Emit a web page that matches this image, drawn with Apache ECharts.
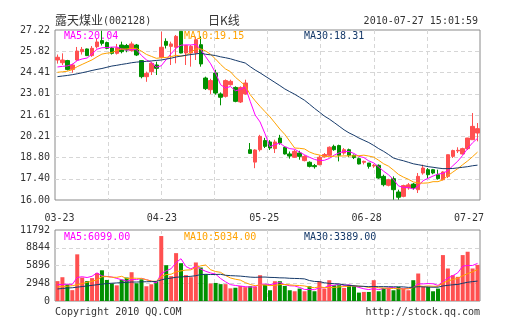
<!DOCTYPE html>
<html><head><meta charset="utf-8">
<script src="https://cdn.jsdelivr.net/npm/echarts@6/dist/echarts.min.js"></script>
<style>html,body{margin:0;padding:0;background:#fff}#c{width:505px;height:330px}</style>
</head><body><div id="c"></div>
<script>
const dates = ['03-23','03-24','03-25','03-26','03-29','03-30','03-31',
'04-01','04-02','04-06','04-07','04-08','04-09','04-12','04-13','04-14','04-15','04-16','04-19','04-20','04-21','04-22','04-23','04-26','04-27','04-28','04-29','04-30',
'05-04','05-05','05-06','05-07','05-10','05-11','05-12','05-13','05-14','05-17','05-18','05-19','05-20','05-21','05-24','05-25','05-26','05-27','05-28','05-31',
'06-01','06-02','06-03','06-04','06-07','06-08','06-09','06-10','06-11','06-17','06-18','06-21','06-22','06-23','06-24','06-25','06-28','06-29','06-30',
'07-01','07-02','07-05','07-06','07-07','07-08','07-09','07-12','07-13','07-14','07-15','07-16','07-19','07-20','07-21','07-22','07-23','07-26','07-27'];

const opens = [25.24,25.06,25.20,24.62,25.24,25.79,25.97,25.53,26.12,26.52,
26.39,26.03,25.68,26.23,26.20,25.86,26.23,25.20,24.14,24.47,
24.91,25.42,26.47,26.14,26.08,27.13,25.70,25.70,25.70,26.25,
24.05,23.28,24.38,23.00,22.84,23.61,23.43,22.47,23.00,19.32,
18.50,19.32,19.92,19.83,19.39,20.09,19.48,19.04,18.82,19.10,
18.60,18.49,18.27,18.33,18.85,18.95,19.54,19.59,19.10,19.32,
18.95,18.73,18.49,18.44,18.25,18.29,17.56,16.97,17.41,16.53,
16.24,16.80,17.05,16.68,17.78,18.00,18.00,17.67,17.34,17.56,
18.88,19.24,19.04,19.39,19.98,20.42];
const closes = [25.42,25.24,24.62,24.91,25.83,25.94,25.53,26.01,26.43,26.34,
26.01,25.68,26.05,25.79,25.90,26.30,25.57,24.14,24.36,25.02,
24.69,26.08,26.21,26.30,26.80,25.70,26.20,26.14,26.58,24.98,
23.35,23.88,23.06,22.78,23.88,23.83,22.51,23.43,23.72,19.08,
19.30,20.20,19.54,19.43,19.83,19.76,19.04,18.90,19.21,18.88,
18.88,18.22,18.20,18.82,19.00,19.48,19.32,18.95,19.32,18.95,
18.80,18.38,18.55,18.22,18.29,17.45,17.01,17.34,16.68,16.18,
16.95,17.00,16.79,17.56,18.11,17.67,17.78,17.41,17.85,18.99,
19.26,19.28,19.39,20.09,20.86,20.71];
const highs = [25.60,25.68,25.25,25.00,26.10,26.10,26.00,26.16,26.67,27.17,
26.45,26.10,26.30,26.45,26.30,26.45,26.30,25.24,24.47,25.13,
25.13,27.11,26.67,26.45,26.89,27.15,26.23,26.23,26.78,26.80,
24.14,24.00,24.60,23.10,23.96,23.94,23.50,23.50,23.94,19.76,
19.35,20.30,20.10,19.95,19.98,20.30,19.55,19.20,19.32,19.25,
18.95,18.55,18.38,18.95,19.10,19.54,19.65,19.65,19.43,19.39,
19.00,18.80,18.60,18.44,18.38,18.35,17.67,17.40,17.56,16.68,
17.01,17.12,17.12,17.78,18.33,18.11,18.05,18.00,17.90,19.00,
19.32,19.48,19.45,20.10,21.74,21.08];
const lows = [25.00,24.91,24.55,24.40,25.20,25.60,25.50,25.45,26.00,26.20,
25.95,25.60,25.60,25.68,25.75,25.79,25.50,24.03,23.80,24.25,
24.25,25.35,26.00,24.91,25.02,25.68,24.91,24.80,25.24,24.80,
23.26,23.00,22.95,22.25,22.76,23.55,22.45,22.40,22.95,19.04,
18.10,19.20,19.43,19.30,19.10,19.65,19.00,18.73,18.77,18.66,
18.55,18.15,18.07,18.29,18.80,18.88,19.25,18.55,18.99,18.82,
18.70,18.35,18.35,18.07,18.12,17.40,16.90,16.90,16.02,16.02,
16.18,16.68,16.68,16.46,17.67,17.45,17.70,17.34,17.30,17.45,
18.77,19.10,19.00,19.30,19.98,19.87];
const volumes = [3300,3950,2750,1800,7750,3900,3300,3800,4650,5100,
3500,2900,2600,3550,3900,4780,2950,3600,2450,2780,
3150,10790,5950,4130,7950,6280,4300,3950,6400,5560,
4448,2900,3000,2800,2800,2100,2200,2500,2300,2452,
2341,4288,2730,1785,3285,3285,2507,1785,1618,2063,
1618,2452,1618,3285,2063,3452,2619,2619,2174,2619,
2452,1396,1507,1507,3452,1618,2174,2174,1785,2341,
2063,1785,3452,4565,2341,2341,1618,2063,7625,5401,
4288,4010,7625,8182,5401,6000];

// moving-average values before enough in-window history exists
const priceMa5Head = [24.78,24.82,24.85,24.95];
const priceMa10Head = [24.43,24.46,24.50,24.60,24.80,24.95,25.10,25.25,25.45];
const priceMa30Head = [24.14,24.18,24.22,24.27,24.33,24.40,24.47,24.55,24.62,24.68,
24.76,24.84,24.89,24.95,25.00,25.06,25.10,25.13,25.15,25.18,
25.21,25.24,25.30,25.36,25.44,25.50,25.55,25.60,25.64];
const volMa5Head = [2700,2750,2800,2750];
const volMa10Head = [2340,2400,2450,2550,2700,2900,3100,3300,3500];
const volMa30Head = [2000,2080,2150,2200,2300,2400,2500,2600,2700,2800,
2900,2950,3000,3050,3100,3150,3150,3180,3200,3220,
3250,3500,3700,3800,3950,4000,4050,4100,4200];

const yTickLabels = ['16.00','17.40','18.80','20.21','21.61','23.01','24.41','25.82','27.22'];
const volTickLabels = ['0','2948','5896','8844','11792'];
const xTickLabels = ['03-23','04-23','05-25','06-28','07-27'];
const headerTexts = ['露天煤业','(002128)','日K线','2010-07-27 15:01:59'];
const priceLegend = ['MA5:20.04','MA10:19.15','MA30:18.31'];
const volLegend = ['MA5:6099.00','MA10:5034.00','MA30:3389.00'];
const footerTexts = ['Copyright 2010 QQ.COM','http://stock.qq.com'];

function movingAvg(vals, n, head, dp) {
  return vals.map((v, i) => {
    if (i < n - 1) return head[i];
    let s = 0;
    for (let k = i - n + 1; k <= i; k++) s += vals[k];
    return +(s / n).toFixed(dp);
  });
}

const RED = '#ff5050', GREEN = '#009000';
const C5 = '#ff00ff', C10 = '#ffa200', C30 = '#163a6a';
const MONO = '"DejaVu Sans Mono", monospace';
const CJK = '"Noto Sans CJK SC", sans-serif';

const kData = opens.map((o, i) => [o, closes[i], lows[i], highs[i]]);
const vData = volumes.map((v, i) => ({value: v, itemStyle: {color: closes[i] >= opens[i] ? RED : GREEN}}));

const dash = {color: '#d6d6d6', type: [4, 3], width: 1};
function hiddenCat(g) {
  return {type: 'category', gridIndex: g, data: dates, boundaryGap: true,
    axisLine: {show: false}, axisTick: {show: false}, axisLabel: {show: false}, splitLine: {show: false}};
}
function gridX(g) {
  return {type: 'value', gridIndex: g, min: 0, max: 8, interval: 1,
    axisLine: {show: false}, axisTick: {show: false}, axisLabel: {show: false},
    splitLine: {show: true, showMinLine: false, showMaxLine: false, lineStyle: dash}};
}
function line(name, data, color, xi, yi) {
  return {name, type: 'line', data, xAxisIndex: xi, yAxisIndex: yi, symbol: 'none', smooth: false,
    lineStyle: {color, width: 1}, z: 3, silent: true};
}

const chart = echarts.init(document.getElementById('c'), null, {renderer: 'canvas'});
chart.setOption({
  animation: false,
  backgroundColor: '#fff',
  grid: [
    {left: 55, top: 30, width: 425, height: 170, show: true, borderColor: '#8a8a8a', borderWidth: 1, backgroundColor: '#fff'},
    {left: 55, top: 230, width: 425, height: 71, show: true, borderColor: '#8a8a8a', borderWidth: 1, backgroundColor: '#fff'}
  ],
  xAxis: [
    hiddenCat(0), gridX(0), hiddenCat(1), gridX(1),
    {type: 'value', gridIndex: 0, min: -0.044, max: 4.1075, position: 'bottom',
      axisLine: {show: false}, axisTick: {show: false}, splitLine: {show: false},
      axisLabel: {customValues: [0, 1, 2, 3, 4], formatter: v => xTickLabels[Math.round(v)],
        color: '#333', fontFamily: MONO, fontSize: 10, margin: 13}}
  ],
  yAxis: [
    {type: 'value', gridIndex: 0, min: 16, max: 27.22, interval: 1.4025,
      axisLine: {show: false}, axisTick: {show: false},
      splitLine: {show: true, showMinLine: false, showMaxLine: false, lineStyle: dash},
      axisLabel: {formatter: v => yTickLabels[Math.round((v - 16) / 1.4025)], color: '#333', fontFamily: MONO, fontSize: 10, margin: 5}},
    {type: 'value', gridIndex: 1, min: 0, max: 11792, interval: 2948,
      axisLine: {show: false}, axisTick: {show: false},
      splitLine: {show: true, showMinLine: false, showMaxLine: false, lineStyle: dash},
      axisLabel: {formatter: v => volTickLabels[Math.round(v / 2948)], color: '#333', fontFamily: MONO, fontSize: 10, margin: 5}}
  ],
  series: [
    {type: 'candlestick', data: kData, xAxisIndex: 0, yAxisIndex: 0, barWidth: 4,
      itemStyle: {color: RED, color0: GREEN, borderColor: RED, borderColor0: GREEN, borderWidth: 1}, z: 2, silent: true},
    line('MA5', movingAvg(closes, 5, priceMa5Head, 2), C5, 0, 0),
    line('MA10', movingAvg(closes, 10, priceMa10Head, 2), C10, 0, 0),
    line('MA30', movingAvg(closes, 30, priceMa30Head, 2), C30, 0, 0),
    {type: 'bar', data: vData, xAxisIndex: 2, yAxisIndex: 1, barWidth: 4, z: 2, silent: true},
    line('VMA5', movingAvg(volumes, 5, volMa5Head, 0), C5, 2, 1),
    line('VMA10', movingAvg(volumes, 10, volMa10Head, 0), C10, 2, 1),
    line('VMA30', movingAvg(volumes, 30, volMa30Head, 0), C30, 2, 1)
  ],
  graphic: [
    {type: 'text', left: 55, top: 14, style: {text: headerTexts[0], font: '12px ' + CJK, fill: '#333'}},
    {type: 'text', left: 103, top: 16, style: {text: headerTexts[1], font: '10px ' + MONO, fill: '#333'}},
    {type: 'text', left: 208, top: 14, style: {text: headerTexts[2], font: '12px ' + CJK, fill: '#333'}},
    {type: 'text', right: 27, top: 16, style: {text: headerTexts[3], font: '10px ' + MONO, fill: '#333'}},
    {type: 'text', left: 64, top: 31, z: 10, style: {text: priceLegend[0], font: '10px ' + MONO, fill: C5}},
    {type: 'text', left: 184, top: 31, z: 10, style: {text: priceLegend[1], font: '10px ' + MONO, fill: C10}},
    {type: 'text', left: 304, top: 31, z: 10, style: {text: priceLegend[2], font: '10px ' + MONO, fill: C30}},
    {type: 'text', left: 64, top: 232, z: 10, style: {text: volLegend[0], font: '10px ' + MONO, fill: C5}},
    {type: 'text', left: 184, top: 232, z: 10, style: {text: volLegend[1], font: '10px ' + MONO, fill: C10}},
    {type: 'text', left: 304, top: 232, z: 10, style: {text: volLegend[2], font: '10px ' + MONO, fill: C30}},
    {type: 'text', left: 55, top: 307, style: {text: footerTexts[0], font: '10px ' + MONO, fill: '#333'}},
    {type: 'text', right: 25, top: 307, style: {text: footerTexts[1], font: '10px ' + MONO, fill: '#333'}}
  ]
});
</script></body></html>
